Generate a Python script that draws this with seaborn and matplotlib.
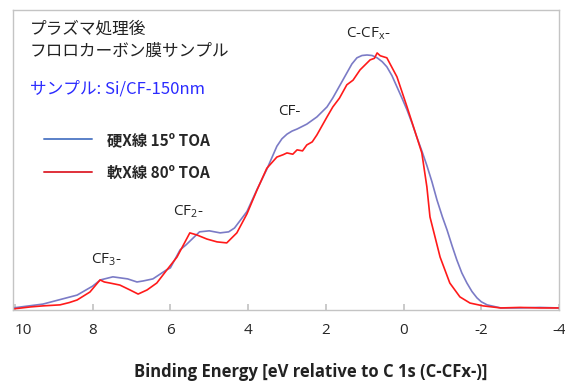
import matplotlib
matplotlib.use("Agg")
import matplotlib.pyplot as plt
from matplotlib.lines import Line2D
import seaborn as sns
import pandas as pd

# ---- data ----
energy_hard = [10.05, 9.28, 8.4, 8.0, 7.8, 7.48, 7.1, 6.86, 6.7, 6.45, 6.1, 6.0,
               5.75, 5.6, 5.25, 5.0, 4.72, 4.5, 4.35, 4.03, 3.77, 3.52, 3.26, 3.13,
               3.0, 2.87, 2.74, 2.49, 2.23, 1.97, 1.82, 1.46, 1.33, 1.2, 1.07, 0.94,
               0.81, 0.68, 0.55, 0.43, 0.3, 0.17, 0.04, -0.09, -0.22, -0.34, -0.47,
               -0.6, -0.73, -0.86, -1.0, -1.12, -1.25, -1.37, -1.5, -1.63, -1.76,
               -1.89, -2.0, -2.15, -2.5, -3.0, -3.5, -4.0]
intensity_hard = [0.004, 0.019, 0.054, 0.089, 0.113, 0.125, 0.117, 0.105, 0.109,
                  0.117, 0.152, 0.160, 0.230, 0.249, 0.300, 0.304, 0.296, 0.300,
                  0.315, 0.379, 0.465, 0.543, 0.633, 0.662, 0.680, 0.692, 0.700,
                  0.719, 0.747, 0.786, 0.821, 0.918, 0.953, 0.977, 0.986, 0.988,
                  0.986, 0.977, 0.962, 0.942, 0.908, 0.864, 0.820, 0.774, 0.722,
                  0.669, 0.615, 0.558, 0.495, 0.424, 0.358, 0.307, 0.245, 0.191,
                  0.140, 0.101, 0.068, 0.043, 0.028, 0.016, 0.004, 0.004, 0.006,
                  0.004]

energy_soft = [10.05, 9.6, 9.28, 8.84, 8.6, 8.4, 8.07, 7.81, 7.7, 7.56, 7.3, 7.04,
               6.83, 6.6, 6.35, 6.09, 5.83, 5.57, 5.5, 5.32, 5.06, 4.8, 4.55, 4.29,
               4.03, 3.77, 3.52, 3.26, 3.1, 3.0, 2.85, 2.74, 2.6, 2.49, 2.35, 2.23,
               1.97, 1.82, 1.65, 1.46, 1.3, 1.12, 0.86, 0.75, 0.68, 0.6, 0.43, 0.17,
               -0.09, -0.34, -0.47, -0.6, -0.68, -0.94, -1.19, -1.45, -1.71,
               -2.05, -2.5, -3.0, -3.5, -4.0]
intensity_soft = [0.0, 0.008, 0.012, 0.016, 0.025, 0.035, 0.066, 0.113, 0.105,
                  0.101, 0.093, 0.074, 0.058, 0.074, 0.101, 0.152, 0.202, 0.276,
                  0.296, 0.288, 0.272, 0.261, 0.257, 0.296, 0.370, 0.463, 0.547,
                  0.591, 0.600, 0.607, 0.602, 0.619, 0.615, 0.638, 0.650, 0.677,
                  0.747, 0.786, 0.820, 0.872, 0.890, 0.930, 0.969, 0.975, 0.996,
                  0.985, 0.977, 0.903, 0.786, 0.669, 0.607, 0.475, 0.358, 0.202,
                  0.101, 0.047, 0.023, 0.012, 0.004, 0.006, 0.004, 0.004]

label_hard = "硬X線 15º TOA"
label_soft = "軟X線 80º TOA"
x_ticks = [10, 8, 6, 4, 2, 0, -2, -4]

sns.set_theme(style="white")
plt.rcParams['font.family'] = ['Noto Sans CJK JP', 'DejaVu Sans']
plt.rcParams['mathtext.fontset'] = 'custom'
plt.rcParams['mathtext.rm'] = 'Open Sans'

df_hard = pd.DataFrame({"E": energy_hard, "I": intensity_hard})
df_soft = pd.DataFrame({"E": energy_soft, "I": intensity_soft})

fig = plt.figure(figsize=(5.65, 3.85), dpi=100)
ax = fig.add_axes([13/565, 1-310/385, (559-13)/565, 300/385])

sns.lineplot(data=df_hard, x="E", y="I", ax=ax, color="#7b7bc6", lw=1.2,
             sort=False, estimator=None)
sns.lineplot(data=df_soft, x="E", y="I", ax=ax, color="#ff1a1a", lw=1.2,
             sort=False, estimator=None)

ax.set_xlim(10.05, -4)
ax.set_ylim(-0.004, 1.163)
ax.set_xticks(x_ticks)
ax.set_xticklabels([str(t) for t in x_ticks], fontfamily='Open Sans', fontsize=11)
ax.get_xticklabels()[0].set_horizontalalignment('left')
ax.set_yticks([])
ax.set_xlabel("")
ax.set_ylabel("")
for s in ax.spines.values():
    s.set_color("#c4c4c4")
    s.set_linewidth(1.0)
ax.tick_params(axis='x', direction='in', length=4, color="#c4c4c4", pad=9,
               bottom=True)

# annotations
ann_kw = dict(ha='center', va='center', fontsize=11, fontfamily='Open Sans',
              color='#222222')
ax.text(7.65, 0.19, r"CF$_{\mathrm{3}}$-", **ann_kw)
ax.text(5.55, 0.38, r"CF$_{\mathrm{2}}$-", **ann_kw)
ax.text(2.95, 0.77, "CF-", **ann_kw)
ax.text(0.9, 1.07, r"C-CF$_{\mathrm{x}}$-", **ann_kw)

fig.text(30/565, 1-29/385, "プラズマ処理後", ha='left', va='center', fontsize=12,
         color='#222222')
fig.text(30/565, 1-51/385, "フロロカーボン膜サンプル", ha='left', va='center',
         fontsize=12, color='#222222')
fig.text(30/565, 1-89/385, "サンプル: Si/CF-150nm", ha='left', va='center',
         fontsize=12, color='#2b2bff', family=['Noto Sans CJK JP', 'DejaVu Sans'])

handles = [Line2D([], [], color="#5a80c8", lw=1.4),
           Line2D([], [], color="#e0303a", lw=1.4)]
leg = ax.legend(handles, [label_hard, label_soft], loc='upper left',
                bbox_to_anchor=(0.032, 0.64), frameon=False, handlelength=3.1,
                handletextpad=1.0, labelspacing=1.1,
                prop={'family': ['Noto Sans CJK JP', 'DejaVu Sans'],
                      'weight': 'bold', 'size': 11})

fig.text(311/565, 1-372/385, "Binding Energy [eV relative to C 1s (C-CFx-)]",
         ha='center', va='center', fontsize=12, fontweight='bold',
         fontfamily='Open Sans', color='#222222')

fig.savefig("out.png", dpi=100)
